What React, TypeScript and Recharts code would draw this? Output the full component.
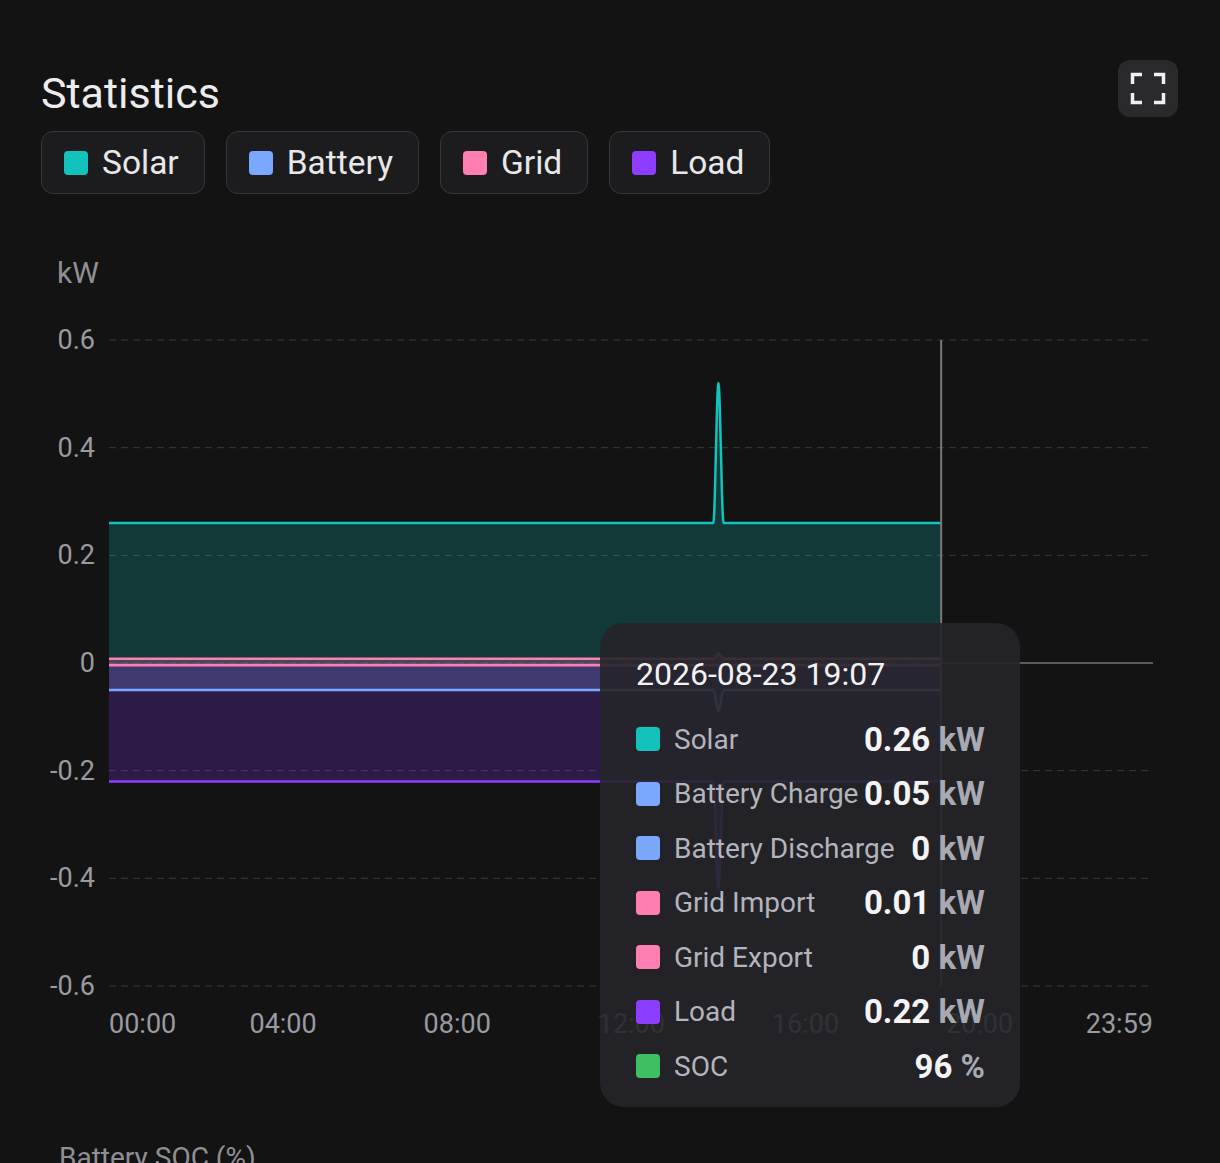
import React from "react"
import { ComposedChart, Area, XAxis, YAxis, CartesianGrid, Tooltip, ReferenceLine } from "recharts"

// minutes since midnight for each sample
const minutes = [0, 833, 840, 847, 1147]
const solar = [0.26, 0.26, 0.52, 0.26, 0.26]
const batteryCharge = [-0.05, -0.05, -0.09, -0.05, -0.05]
const batteryDischarge = [0, 0, 0, 0, 0]
const gridImport = [0.008, 0.008, 0.017, 0.008, 0.008]
const gridExport = [-0.004, -0.004, -0.004, -0.004, -0.004]
const load = [-0.22, -0.22, -0.42, -0.22, -0.22]
const soc = [96, 96, 96, 96, 96]

const day = "2026-08-23"
const xTicks = [0, 240, 480, 720, 960, 1200, 1439]
const xTickLabels = ["00:00", "04:00", "08:00", "12:00", "16:00", "20:00", "23:59"]
const yTicks = [-0.6, -0.4, -0.2, 0, 0.2, 0.4, 0.6]

const legendItems = [
  { name: "Solar", color: "#12c2bb" },
  { name: "Battery", color: "#7ba8ff" },
  { name: "Grid", color: "#ff7fb2" },
  { name: "Load", color: "#8d3dff" },
]

const chartData = minutes.map((m, i) => ({
  t: m,
  solar: solar[i],
  batteryCharge: batteryCharge[i],
  batteryDischarge: batteryDischarge[i],
  gridImport: gridImport[i],
  gridExport: gridExport[i],
  load: load[i],
  soc: soc[i],
}))

const font = "Roboto, 'Noto Sans', sans-serif"

function hhmm(m: number) {
  const h = Math.floor(m / 60)
  const mm = m % 60
  return `${String(h).padStart(2, "0")}:${String(mm).padStart(2, "0")}`
}

function fmt(v: number) {
  return String(Number(Math.abs(v).toFixed(2)))
}

function XTick({ x, payload, index }: any) {
  const anchor = index === 0 ? "start" : index === xTicks.length - 1 ? "end" : "middle"
  return (
    <text x={x} y={986 + 38} textAnchor={anchor} dominantBaseline="central" fill="#9a9aa0" fontSize={27} fontFamily={font}>
      {xTickLabels[xTicks.indexOf(payload.value)]}
    </text>
  )
}

function YTick({ y, payload }: any) {
  const v = payload.value
  return (
    <text x={95} y={y} textAnchor="end" dominantBaseline="central" fill="#9a9aa0" fontSize={27} fontFamily={font}>
      {v === 0 ? "0" : v.toFixed(1)}
    </text>
  )
}

function StatsTooltip({ active, payload }: any) {
  if (!active || !payload || !payload.length) return null
  const row = payload[0].payload
  const rows = [
    { name: "Solar", color: "#12c2bb", value: fmt(row.solar), unit: "kW" },
    { name: "Battery Charge", color: "#7ba8ff", value: fmt(row.batteryCharge), unit: "kW" },
    { name: "Battery Discharge", color: "#7ba8ff", value: fmt(row.batteryDischarge), unit: "kW" },
    { name: "Grid Import", color: "#ff7fb2", value: fmt(row.gridImport), unit: "kW" },
    { name: "Grid Export", color: "#ff7fb2", value: fmt(row.gridExport), unit: "kW" },
    { name: "Load", color: "#8d3dff", value: fmt(row.load), unit: "kW" },
    { name: "SOC", color: "#3dbf62", value: String(row.soc), unit: "%" },
  ]
  return (
    <div
      style={{
        width: 420,
        height: 484,
        boxSizing: "border-box",
        padding: "29px 35px 0 36px",
        borderRadius: 24,
        background: "rgba(37, 37, 41, 0.9)",
        fontFamily: font,
      }}
    >
      <div style={{ fontSize: 32, lineHeight: "44px", color: "#f2f2f4" }}>
        {day} {hhmm(row.t)}
      </div>
      <div style={{ marginTop: 16 }}>
        {rows.map((r) => (
          <div key={r.name} style={{ display: "flex", alignItems: "center", height: 54.5 }}>
            <div style={{ width: 24, height: 24, borderRadius: 4, background: r.color, marginRight: 14 }} />
            <div style={{ flex: 1, fontSize: 28, color: "#b4b4bc", whiteSpace: "nowrap" }}>{r.name}</div>
            <div style={{ fontSize: 33, fontWeight: 700, color: "#f4f4f6", whiteSpace: "nowrap" }}>
              {r.value} <span style={{ color: "#a9a9b1" }}>{r.unit}</span>
            </div>
          </div>
        ))}
      </div>
    </div>
  )
}

export default function App() {
  return (
    <div
      style={{
        position: "absolute",
        left: 0,
        top: 0,
        width: 1220,
        height: 1163,
        background: "#131314",
        overflow: "hidden",
        fontFamily: font,
      }}
    >
      <div style={{ position: "absolute", left: 41, top: 72, fontSize: 43, lineHeight: 1, color: "#ececee" }}>
        Statistics
      </div>

      <div
        style={{
          position: "absolute",
          left: 1118,
          top: 60,
          width: 60,
          height: 57,
          borderRadius: 12,
          background: "#2a2a2d",
        }}
      >
        <svg width={60} height={57}>
          <g fill="none" stroke="#f0f0f2" strokeWidth={3.5}>
            <path d="M14.5 24 V14.5 H24" />
            <path d="M36 14.5 H45.5 V24" />
            <path d="M14.5 33 V42.5 H24" />
            <path d="M36 42.5 H45.5 V33" />
          </g>
        </svg>
      </div>

      <div style={{ position: "absolute", left: 41, top: 131, display: "flex", gap: 21 }}>
        {legendItems.map((item) => (
          <div
            key={item.name}
            style={{
              display: "flex",
              alignItems: "center",
              height: 63,
              boxSizing: "border-box",
              padding: "0 25px 0 22px",
              borderRadius: 12,
              border: "1px solid #36363a",
              background: "#1c1c1f",
            }}
          >
            <div style={{ width: 24, height: 24, borderRadius: 4, background: item.color, marginRight: 14 }} />
            <span style={{ fontSize: 33.5, color: "#e8e8ea" }}>{item.name}</span>
          </div>
        ))}
      </div>

      <div style={{ position: "absolute", left: 57, top: 258, fontSize: 30, lineHeight: 1, color: "#8f8f95" }}>kW</div>

      <div style={{ position: "absolute", left: 0, top: 0 }}>
        <ComposedChart width={1220} height={1060} data={chartData} margin={{ top: 340, right: 67, bottom: 0, left: 0 }}>
          <CartesianGrid vertical={false} stroke="#3a3a3c" strokeDasharray="7 5" />
          <XAxis
            dataKey="t"
            type="number"
            domain={[0, 1439]}
            ticks={xTicks}
            tick={<XTick />}
            axisLine={false}
            tickLine={false}
            height={74}
            interval={0}
          />
          <YAxis
            type="number"
            domain={[-0.6, 0.6]}
            ticks={yTicks}
            tick={<YTick />}
            axisLine={false}
            tickLine={false}
            width={109}
            interval={0}
          />
          <ReferenceLine
            segment={[
              { x: 1147, y: 0 },
              { x: 1439, y: 0 },
            ]}
            stroke="#5c5c60"
            strokeWidth={2}
          />
          <Area
            type="monotone"
            dataKey="load"
            stroke="#8d3dff"
            strokeWidth={2.5}
            fill="#8d3dff"
            fillOpacity={0.22}
            baseValue={0}
            activeDot={false}
            isAnimationActive={false}
          />
          <Area
            type="monotone"
            dataKey="batteryCharge"
            stroke="#7ba8ff"
            strokeWidth={2.5}
            fill="#7ba8ff"
            fillOpacity={0.22}
            baseValue={0}
            activeDot={false}
            isAnimationActive={false}
          />
          <Area
            type="monotone"
            dataKey="solar"
            stroke="#12c2bb"
            strokeWidth={2.5}
            fill="#12c2bb"
            fillOpacity={0.22}
            baseValue={0}
            activeDot={false}
            isAnimationActive={false}
          />
          <Area
            type="monotone"
            dataKey="gridExport"
            stroke="#ff7fb2"
            strokeWidth={2.5}
            fill="#ff7fb2"
            fillOpacity={0.22}
            baseValue={0}
            activeDot={false}
            isAnimationActive={false}
          />
          <Area
            type="monotone"
            dataKey="gridImport"
            stroke="#ff7fb2"
            strokeWidth={2.5}
            fill="#ff7fb2"
            fillOpacity={0.22}
            baseValue={0}
            activeDot={false}
            isAnimationActive={false}
          />
          <Tooltip
            active
            defaultIndex={4}
            position={{ x: 600, y: 623 }}
            cursor={{ stroke: "#77777c", strokeWidth: 2 }}
            content={<StatsTooltip />}
            isAnimationActive={false}
            allowEscapeViewBox={{ x: true, y: true }}
            wrapperStyle={{ zIndex: 10 }}
          />
        </ComposedChart>
      </div>

      <div style={{ position: "absolute", left: 59, top: 1144, fontSize: 28, lineHeight: 1, color: "#8f8f95" }}>
        Battery SOC (%)
      </div>
    </div>
  )
}
